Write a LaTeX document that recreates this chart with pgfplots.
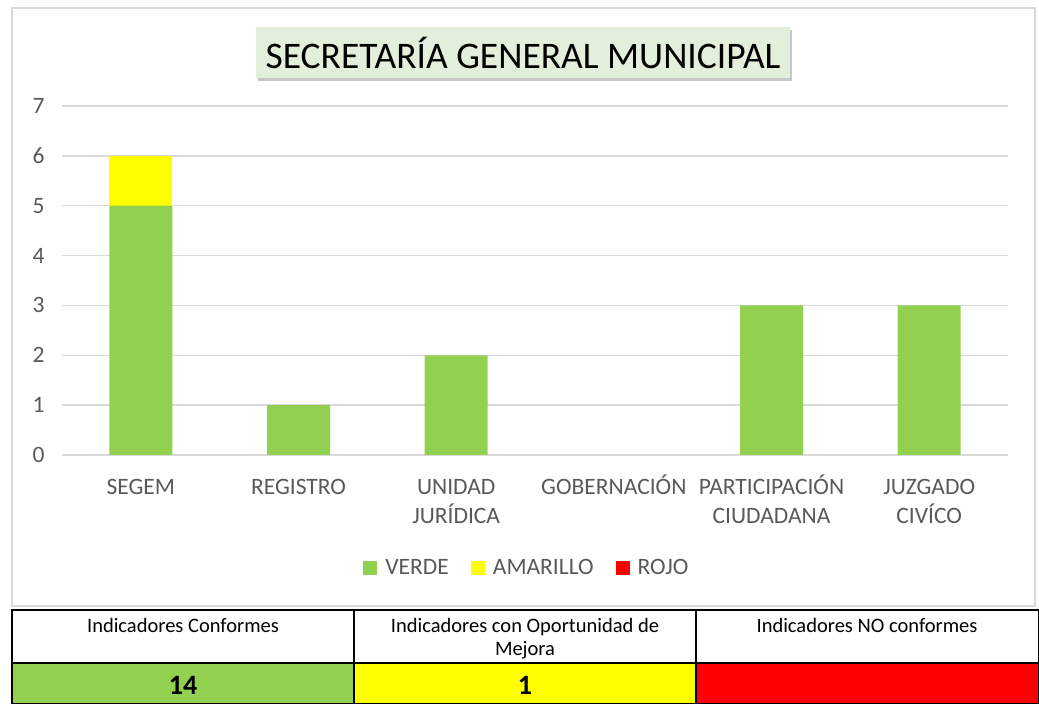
\documentclass[border=0pt]{standalone}
\usepackage{fontspec}
\setmainfont{Carlito}
\usepackage{pgfplots}
\pgfplotsset{compat=1.18}
\usetikzlibrary{shadows}

\definecolor{verde}{HTML}{92D050}
\definecolor{amarillo}{HTML}{FFFF00}
\definecolor{rojo}{HTML}{FF0000}
\definecolor{txtgray}{HTML}{595959}
\definecolor{gridgray}{HTML}{D9D9D9}
\definecolor{titlefill}{HTML}{E2EFDA}

\begin{document}
\begin{tikzpicture}[x=1pt,y=1pt]
\useasboundingbox (0,0) rectangle (1039,704);

% marco del gráfico
\draw[gridgray, line width=1.5pt] (12,98) rectangle (1035,696);

% título
\node[fill=titlefill, minimum width=534pt, minimum height=51pt, inner sep=0pt,
      drop shadow={shadow xshift=2pt, shadow yshift=-3pt, opacity=0.45},
      font=\fontsize{37.5}{42}\selectfont, text=black] at (523,651.5)
  {SECRETARÍA GENERAL MUNICIPAL};

\begin{axis}[
  at={(62pt,249pt)}, anchor=south west,
  scale only axis, width=946pt, height=349pt,
  ybar stacked, bar width=63pt,
  xmin=-0.5, xmax=5.5, ymin=0, ymax=7,
  xtick={0,1,2,3,4,5},
  xticklabels={\strut SEGEM, \strut REGISTRO, {\strut UNIDAD\\\strut JURÍDICA}, \strut GOBERNACIÓN, {\strut PARTICIPACIÓN\\\strut CIUDADANA}, {\strut JUZGADO\\\strut CIVÍCO}},
  ytick={0,1,2,3,4,5,6,7},
  ymajorgrids, grid style={gridgray, line width=1.5pt},
  axis line style={draw=none}, major tick style={draw=none},
  tick label style={text=txtgray, font=\fontsize{23.5}{29}\selectfont},
  xticklabel style={align=center, anchor=north, inner sep=0pt, yshift=-19pt},
  yticklabel style={anchor=east, xshift=-14pt},
  /pgf/number format/assume math mode=true,
  legend columns=3,
  legend style={at={(0.4915,-0.324)}, anchor=center, draw=none, fill=none,
    font=\fontsize{23.5}{26}\selectfont, text=txtgray,
    /tikz/every odd column/.append style={column sep=6pt},
    /tikz/every even column/.append style={column sep=20pt}},
  legend image code/.code={\fill[#1] (0pt,-7pt) rectangle (14pt,7pt);},
]
\addplot[fill=verde, draw=none] coordinates {(0,5) (1,1) (2,2) (3,0) (4,3) (5,3)};
\addlegendentry{VERDE}
\addplot[fill=amarillo, draw=none] coordinates {(0,1) (1,0) (2,0) (3,0) (4,0) (5,0)};
\addlegendentry{AMARILLO}
\addplot[fill=rojo, draw=none] coordinates {(0,0) (1,0) (2,0) (3,0) (4,0) (5,0)};
\addlegendentry{ROJO}
\end{axis}

% tabla inferior
\fill[verde] (12,0) rectangle (354,41);
\fill[amarillo] (354,0) rectangle (696,41);
\fill[rojo] (696,0) rectangle (1039,41);
\draw[black, line width=2pt] (12,0) rectangle (1039,94);
\draw[black, line width=2pt] (12,41) -- (1039,41);
\draw[black, line width=2pt] (354,0) -- (354,94);
\draw[black, line width=2pt] (696,0) -- (696,94);
\begin{scope}[every node/.style={font=\fontsize{20.5}{22}\selectfont, inner sep=0pt, anchor=base}]
\node at (183,71) {Indicadores Conformes};
\node at (525,71) {Indicadores con Oportunidad de};
\node at (525,48) {Mejora};
\node at (867,71) {Indicadores NO conformes};
\end{scope}
\begin{scope}[every node/.style={font=\fontsize{28}{30}\selectfont\bfseries, inner sep=0pt, anchor=base}]
\node at (183,9) {14};
\node at (525,9) {1};
\end{scope}
\end{tikzpicture}
\end{document}
